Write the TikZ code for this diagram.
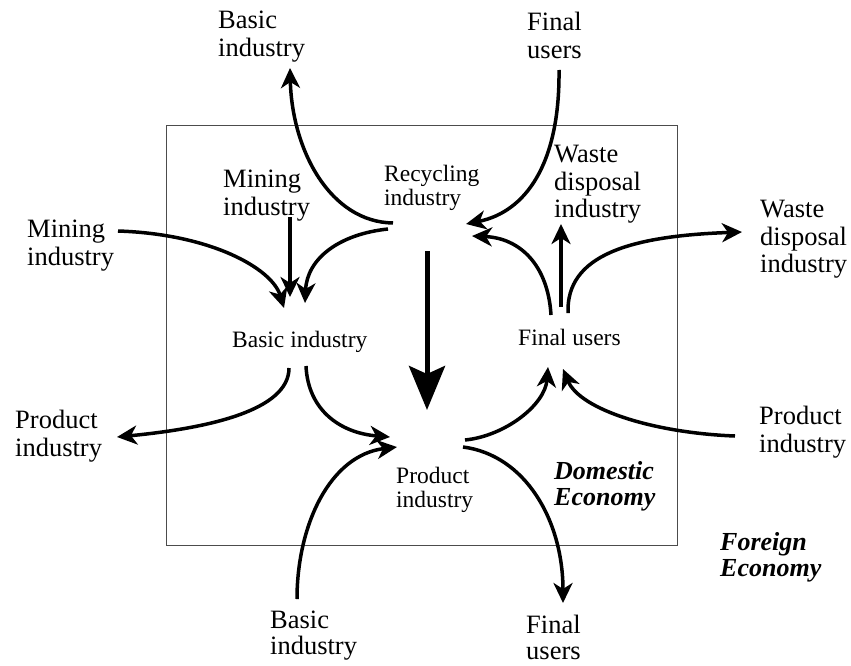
\documentclass[tikz,border=0pt]{standalone}
\usepackage{fontspec}
\setmainfont{Liberation Serif}
\usetikzlibrary{arrows.meta}

\begin{document}
\begin{tikzpicture}[x=1pt,y=-1pt]
                        \tikzstyle{bigtext}=[font=\fontsize{26.5}{27.5}\selectfont, align=left, anchor=north west, inner sep=0pt]
                        \tikzstyle{smalltext}=[font=\fontsize{23.5}{24}\selectfont, align=left, anchor=north west, inner sep=0pt]
                        \tikzstyle{econtext}=[bigtext, font=\fontsize{26}{26.5}\selectfont\bfseries\itshape]
                        \tikzstyle{flow}=[line width=3.5pt, -{Stealth[length=20pt,width=19pt,inset=6pt]}]
                        \tikzstyle{mainflow}=[line width=5pt, -{Stealth[length=44pt,width=36pt,inset=8pt]}]
                        \useasboundingbox (0,0) rectangle (851,666);
                        \draw[gray!60!black, line width=1pt] (166,126) rectangle (677,545);

                        \node[bigtext] (basictop) at (218,11) {Basic\\industry};
                        \node[bigtext] (finaltop) at (527,12) {Final\\users};
                        \node[bigtext] (miningout) at (27,220) {Mining\\industry};
                        \node[bigtext] (wasteout) at (760,200) {Waste\\disposal\\industry};
                        \node[bigtext] (productleft) at (15,410) {Product\\industry};
                        \node[bigtext] (productright) at (759,406) {Product\\industry};
                        \node[bigtext, font=\fontsize{26.5}{26}\selectfont] (basicbot) at (270,611) {Basic\\industry};
                        \node[bigtext, font=\fontsize{26.5}{26}\selectfont] (finalbot) at (526,615) {Final\\users};
                        \node[econtext] (foreign) at (720,532) {Foreign\\Economy};
                        \node[econtext] (domestic) at (554,461) {Domestic\\Economy};
                        \node[bigtext] (mining) at (223,170) {Mining\\industry};
                        \node[bigtext] (waste) at (554,145) {Waste\\disposal\\industry};
                        \node[smalltext] (recycling) at (384,165) {Recycling\\industry};
                        \node[smalltext] (basic) at (232,331) {Basic industry};
                        \node[smalltext] (final) at (518,329) {Final users};
                        \node[smalltext] (product) at (396,467) {Product\\industry};

                        \coordinate (bt) at (290,68);
                        \coordinate (rc1) at (393,223);
                        \coordinate (rc2) at (388,229);
                        \coordinate (rc3) at (472,236);
                        \coordinate (rc4) at (466,224);
                        \coordinate (bs1) at (305,303);
                        \coordinate (bs2) at (290,297);
                        \coordinate (bs3) at (284,308);
                        \coordinate (bs4) at (289,368);
                        \coordinate (bs5) at (306,366);
                        \coordinate (mi) at (290,217);
                        \coordinate (mo) at (118,231);
                        \coordinate (pl) at (117,437);
                        \coordinate (pr1) at (390,437);
                        \coordinate (pr2) at (397,447);
                        \coordinate (pr3) at (465,440);
                        \coordinate (pr4) at (463,447);
                        \coordinate (bb) at (297,599);
                        \coordinate (fb) at (563,603);
                        \coordinate (prr) at (735,436);
                        \coordinate (fu1) at (548,367);
                        \coordinate (fu2) at (563,369);
                        \coordinate (fu3) at (551,315);
                        \coordinate (fu4) at (561,307);
                        \coordinate (fu5) at (568,313);
                        \coordinate (ws) at (561,224);
                        \coordinate (wo) at (742,232);
                        \coordinate (ft) at (559,70);
                        \coordinate (cs) at (427,251);
                        \coordinate (ce) at (427,410);

                        \draw[flow] (rc1) .. controls (330,222) and (292,150) .. (bt);
                        \draw[flow] (rc2) .. controls (340,234) and (307,258) .. (bs1);
                        \draw[flow] (mi) -- (bs2);
                        \draw[flow] (mo) .. controls (210,234) and (272,268) .. (bs3);
                        \draw[flow] (bs4) .. controls (289,410) and (210,428) .. (pl);
                        \draw[flow] (bs5) .. controls (308,410) and (340,433) .. (pr1);
                        \draw[flow] (bb) .. controls (297,525) and (330,455) .. (pr2);
                        \draw[flow] (pr3) .. controls (505,436) and (545,405) .. (fu1);
                        \draw[flow] (pr4) .. controls (525,455) and (563,520) .. (fb);
                        \draw[flow] (prr) .. controls (655,433) and (580,410) .. (fu2);
                        \draw[flow] (fu3) .. controls (548,265) and (520,238) .. (rc3);
                        \draw[flow] (fu4) -- (ws);
                        \draw[flow] (fu5) .. controls (566,255) and (630,236) .. (wo);
                        \draw[flow] (ft) .. controls (560,165) and (525,212) .. (rc4);
                        \draw[mainflow] (cs) -- (ce);
                    \end{tikzpicture}
\end{document}
